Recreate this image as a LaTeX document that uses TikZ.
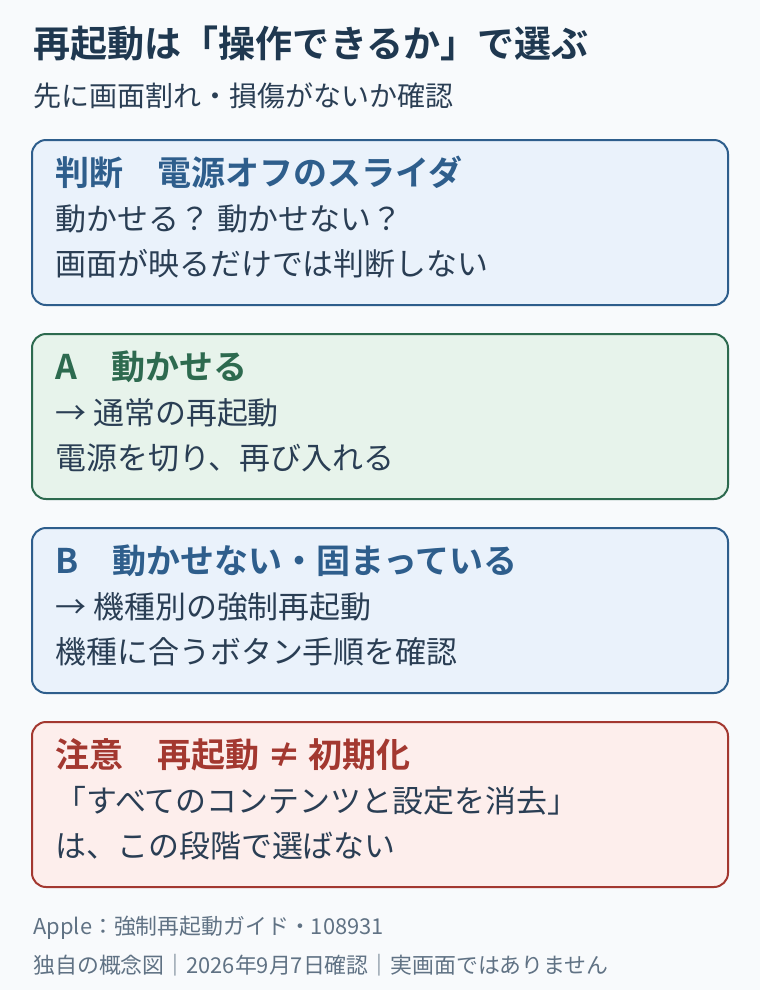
\documentclass[tikz,border=0pt]{standalone}
\usepackage{fontspec}
\setmainfont{Noto Sans CJK JP}[BoldFont={Noto Sans CJK JP Bold}]

\definecolor{pagebg}{RGB}{248,250,252}
\definecolor{inkdark}{RGB}{31,56,80}
\definecolor{inkbody}{RGB}{42,62,84}
\definecolor{inkgray}{RGB}{96,114,132}
\definecolor{blueline}{RGB}{46,94,140}
\definecolor{bluefill}{RGB}{234,242,251}
\definecolor{greenline}{RGB}{45,106,79}
\definecolor{greenfill}{RGB}{231,243,235}
\definecolor{redline}{RGB}{163,56,48}
\definecolor{redfill}{RGB}{253,238,236}

\tikzset{every picture/.style={line width=0.75pt}}
\tikzset{
  card/.style={line width=1.5pt, rounded corners=10.5pt},
  headtext/.style={anchor=west, inner sep=0pt, font=\bfseries\fontsize{27.8}{33}\selectfont, text=inkdark},
  subtext/.style={anchor=west, inner sep=0pt, font=\fontsize{21}{25}\selectfont, text=inkbody},
  cardtitle/.style={anchor=west, inner sep=0pt, font=\bfseries\fontsize{25.5}{30}\selectfont},
  cardbody/.style={anchor=west, inner sep=0pt, font=\fontsize{23.2}{28}\selectfont, text=inkbody},
  footnote/.style={anchor=west, inner sep=0pt, font=\fontsize{16.4}{20}\selectfont, text=inkgray}
}

\begin{document}
\begin{tikzpicture}[x=0.75pt,y=0.75pt,yscale=-1,xscale=1]
%set diagram left start at 0, and has height of 990
\fill[pagebg] (0,0) rectangle (760,990);
\useasboundingbox (0,0) rectangle (760,990);

% Text Node
\node[headtext] (head) at (33,44) {再起動は「操作できるか」で選ぶ};
% Text Node
\node[subtext] (sub) at (33,96) {先に画面割れ・損傷がないか確認};

%Shape: Rectangle [judge]
\draw[card, draw=blueline, fill=bluefill] (32,140) rectangle (728,305);
\node[cardtitle, text=blueline] (judgeT) at (55,172) {判断　電源オフのスライダ};
\node[cardbody] (judgeA) at (55,219) {動かせる？ 動かせない？};
\node[cardbody] (judgeB) at (55,264) {画面が映るだけでは判断しない};

%Shape: Rectangle [caseA]
\draw[card, draw=greenline, fill=greenfill] (32,334) rectangle (728,499);
\node[cardtitle, text=greenline] (caseAT) at (55,367) {A　動かせる};
\node[cardbody] (caseA1) at (55,413) {→ 通常の再起動};
\node[cardbody] (caseA2) at (55,458) {電源を切り、再び入れる};

%Shape: Rectangle [caseB]
\draw[card, draw=blueline, fill=bluefill] (32,528) rectangle (728,693);
\node[cardtitle, text=blueline] (caseBT) at (55,561) {B　動かせない・固まっている};
\node[cardbody] (caseB1) at (55,607) {→ 機種別の強制再起動};
\node[cardbody] (caseB2) at (55,652) {機種に合うボタン手順を確認};

%Shape: Rectangle [warn]
\draw[card, draw=redline, fill=redfill] (32,722) rectangle (728,887);
\node[cardtitle, text=redline] (warnT) at (55,755) {注意　再起動 ≠ 初期化};
\node[cardbody] (warn1) at (55,801) {「すべてのコンテンツと設定を消去」};
\node[cardbody] (warn2) at (55,846) {は、この段階で選ばない};

% Text Node
\node[footnote] (src) at (33,928) {Apple：強制再起動ガイド・108931};
\node[footnote] (note) at (33,965) {独自の概念図｜2026年9月7日確認｜実画面ではありません};

\end{tikzpicture}
\end{document}
